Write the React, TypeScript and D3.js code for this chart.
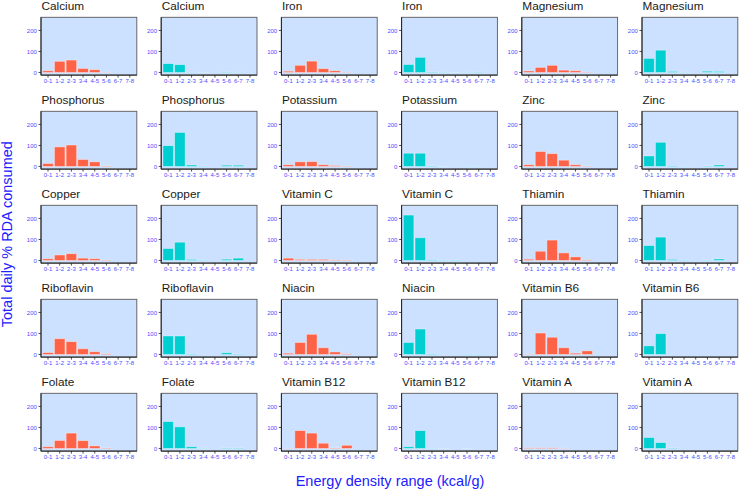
import React from "react";
import * as d3 from "d3";

const bins = ["0-1", "1-2", "2-3", "3-4", "4-5", "5-6", "6-7", "7-8"];
const yTicks = [0, 100, 200];

// values: % RDA per energy density bin (red series, cyan series)
const calciumA = [8, 53, 59, 19, 13, 1, 0, 0];
const calciumB = [42, 37, 1, 0.5, 0, 1.5, 1, 0];
const ironA = [6, 34, 54, 18, 8, 1, 0, 0];
const ironB = [38, 72, 2, 1, 0.5, 1, 1.5, 0];
const magnesiumA = [7, 24, 34, 11, 8, 1.5, 0, 0];
const magnesiumB = [67, 106, 5, 1, 0, 6, 5, 0];
const phosphorusA = [14, 93, 102, 33, 22, 2, 0, 0];
const phosphorusB = [99, 162, 7, 1.5, 0, 6, 6, 0];
const potassiumA = [8, 22, 23, 8, 4, 1.5, 0, 0];
const potassiumB = [63, 63, 2, 0.5, 0, 1, 1, 0];
const zincA = [8, 71, 61, 30, 8, 1.5, 0, 0];
const zincB = [50, 115, 3, 1, 0, 2, 7, 0];
const copperA = [8, 26, 32, 11, 8, 2, 0, 0];
const copperB = [57, 87, 5, 1.5, 0, 6, 11, 0];
const vitaminCA = [11, 5, 5, 5, 2.5, 2, 0, 0];
const vitaminCB = [216, 108, 3, 1.5, 2, 0, 0, 0];
const thiaminA = [6, 44, 97, 36, 17, 2.5, 0, 0];
const thiaminB = [71, 111, 5, 1.5, 0, 1.5, 7, 0];
const riboflavinA = [9, 75, 61, 27, 13, 3, 0, 0];
const riboflavinB = [88, 88, 2.5, 0, 0, 8, 2, 0];
const niacinA = [6, 57, 96, 32, 12, 3, 0, 0];
const niacinB = [57, 121, 2.5, 0, 0, 1.5, 1.5, 0];
const vitaminB6A = [1.5, 102, 82, 32, 6, 17, 0, 0];
const vitaminB6B = [41, 99, 0, 0, 0, 0, 0, 0];
const folateA = [8, 38, 73, 37, 12, 2, 0, 0];
const folateB = [128, 103, 8, 1, 0, 2, 2, 0];
const vitaminB12A = [1, 85, 73, 25, 2, 15, 0, 0];
const vitaminB12B = [8, 85, 1, 0.5, 0, 0.5, 0, 0];
const vitaminAA = [3, 3, 3, 1, 0, 0, 0, 0];
const vitaminAB = [52, 28, 2, 0, 0, 0, 0, 0];

const RED = "#ff6347";
const CYAN = "#00ced1";

const panels: { title: string; values: number[]; color: string }[] = [
  { title: "Calcium", values: calciumA, color: RED },
  { title: "Calcium", values: calciumB, color: CYAN },
  { title: "Iron", values: ironA, color: RED },
  { title: "Iron", values: ironB, color: CYAN },
  { title: "Magnesium", values: magnesiumA, color: RED },
  { title: "Magnesium", values: magnesiumB, color: CYAN },
  { title: "Phosphorus", values: phosphorusA, color: RED },
  { title: "Phosphorus", values: phosphorusB, color: CYAN },
  { title: "Potassium", values: potassiumA, color: RED },
  { title: "Potassium", values: potassiumB, color: CYAN },
  { title: "Zinc", values: zincA, color: RED },
  { title: "Zinc", values: zincB, color: CYAN },
  { title: "Copper", values: copperA, color: RED },
  { title: "Copper", values: copperB, color: CYAN },
  { title: "Vitamin C", values: vitaminCA, color: RED },
  { title: "Vitamin C", values: vitaminCB, color: CYAN },
  { title: "Thiamin", values: thiaminA, color: RED },
  { title: "Thiamin", values: thiaminB, color: CYAN },
  { title: "Riboflavin", values: riboflavinA, color: RED },
  { title: "Riboflavin", values: riboflavinB, color: CYAN },
  { title: "Niacin", values: niacinA, color: RED },
  { title: "Niacin", values: niacinB, color: CYAN },
  { title: "Vitamin B6", values: vitaminB6A, color: RED },
  { title: "Vitamin B6", values: vitaminB6B, color: CYAN },
  { title: "Folate", values: folateA, color: RED },
  { title: "Folate", values: folateB, color: CYAN },
  { title: "Vitamin B12", values: vitaminB12A, color: RED },
  { title: "Vitamin B12", values: vitaminB12B, color: CYAN },
  { title: "Vitamin A", values: vitaminAA, color: RED },
  { title: "Vitamin A", values: vitaminAB, color: CYAN },
];

const W = 740;
const H = 492;
const COL0 = 41;
const COLSTEP = 120.2;
const PW = 95.8;
const ROW0 = 17.3;
const ROWSTEP = 94.0;
const PH = 57.8;
const FONT = "'Liberation Sans', Arial, sans-serif";
const TICKCOL = "#4d4dff";

export default function App() {
  const x = d3.scaleBand<string>().domain(bins).range([0, PW]).paddingInner(0.1).paddingOuter(0.15);
  const y = d3.scaleLinear().domain([-12.5, 262.5]).range([PH, 0]);

  return (
    <svg width={W} height={H} style={{ position: "absolute", left: 0, top: 0 }} fontFamily={FONT}>
      <rect width={W} height={H} fill="white" />
      {panels.map((p, i) => {
        const c = i % 6;
        const r = Math.floor(i / 6);
        const tx = COL0 + c * COLSTEP;
        const ty = ROW0 + r * ROWSTEP;
        return (
          <g key={i} transform={`translate(${tx},${ty})`}>
            <text x={0.5} y={-7.5} fontSize={11.8} fill="#1a1a1a">{p.title}</text>
            <rect width={PW} height={PH} fill="#cce0ff" stroke="#5a5a5a" strokeWidth={0.9} />
            {p.values.map((v, j) => (
              <rect
                key={j}
                x={x(bins[j])!}
                width={x.bandwidth()}
                y={y(Math.max(v, 0))}
                height={Math.abs(y(0) - y(v))}
                fill={p.color}
                stroke="rgba(255,255,255,0.45)"
                strokeWidth={0.8}
              />
            ))}
            <line x1={0} x2={0} y1={0} y2={PH} stroke="#222" strokeWidth={1} />
            <line x1={0} x2={PW} y1={PH} y2={PH} stroke="#222" strokeWidth={1} />
            {yTicks.map((t) => (
              <g key={t} transform={`translate(0,${y(t)})`}>
                <line x1={-2.5} x2={0} stroke="#222" strokeWidth={0.8} />
                <text x={-4.2} dy="0.35em" textAnchor="end" fontSize={6} fill={TICKCOL}>{t}</text>
              </g>
            ))}
            {bins.map((b) => {
              const cx = x(b)! + x.bandwidth() / 2;
              return (
                <g key={b} transform={`translate(${cx},${PH})`}>
                  <line y1={0} y2={2.5} stroke="#222" strokeWidth={0.8} />
                  <text y={6.2} dy="0.35em" textAnchor="middle" fontSize={6} fill={TICKCOL}>{b}</text>
                </g>
              );
            })}
          </g>
        );
      })}
      <text
        transform={`translate(12,${(ROW0 + 4 * ROWSTEP + PH + ROW0) / 2}) rotate(-90)`}
        textAnchor="middle"
        fontSize={14.5}
        fill="#2020ff"
      >
        Total daily % RDA consumed
      </text>
      <text x={390} y={486} textAnchor="middle" fontSize={14.5} fill="#2020ff">
        Energy density range (kcal/g)
      </text>
    </svg>
  );
}
